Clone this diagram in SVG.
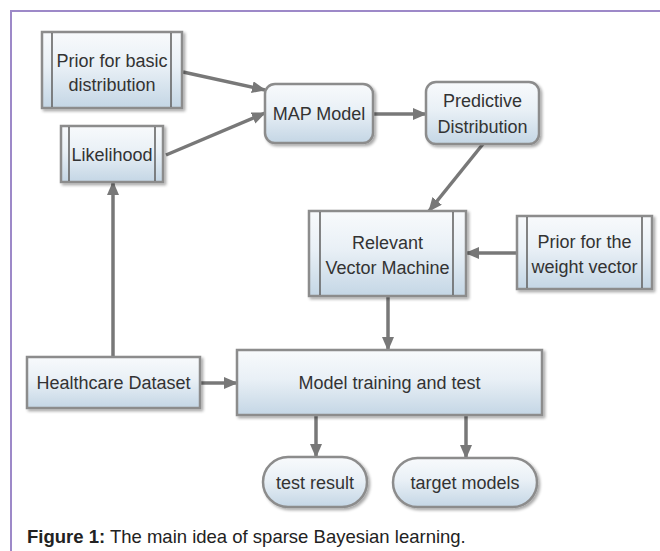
<svg xmlns="http://www.w3.org/2000/svg" width="660" height="551" viewBox="0 0 660 551">
  <defs>
    <linearGradient id="boxFill" x1="0" y1="0" x2="0" y2="1">
      <stop offset="0" stop-color="#f8fafc"/>
      <stop offset="0.45" stop-color="#e9f0f6"/>
      <stop offset="1" stop-color="#c4d6e5"/>
    </linearGradient>
    <filter id="shadow" x="-10%" y="-10%" width="125%" height="135%">
      <feGaussianBlur in="SourceAlpha" stdDeviation="1.5"/>
      <feOffset dx="1.5" dy="2" result="off"/>
      <feComponentTransfer><feFuncA type="linear" slope="0.35"/></feComponentTransfer>
      <feMerge><feMergeNode/><feMergeNode in="SourceGraphic"/></feMerge>
    </filter>
    <marker id="arrow" markerUnits="userSpaceOnUse" markerWidth="14" markerHeight="12" refX="13" refY="6" orient="auto">
      <path d="M0,0 L14,6 L0,12 Z" fill="#787878"/>
    </marker>
  </defs>
  <style>
    .box { fill: url(#boxFill); stroke: #8c8c8c; stroke-width: 2.5; filter: url(#shadow); }
    .bar { stroke: #666; stroke-width: 1.6; }
    .lbl { font-family: "Liberation Sans", Arial, sans-serif; font-size: 18px; fill: #333; text-anchor: middle; }
    .edge { stroke: #787878; stroke-width: 3.5; fill: none; marker-end: url(#arrow); }
    .frame { stroke: #9d89c8; stroke-width: 2; fill: none; }
    .cap { font-family: "Liberation Sans", Arial, sans-serif; font-size: 18.5px; fill: #222; }
  </style>

  <rect width="660" height="551" fill="#ffffff"/>
  <!-- page frame: top and left rules -->
  <path class="frame" d="M11,551 L11,11 L660,11"/>

  <!-- connectors -->
  <g id="connectors">
    <path class="edge" d="M183,72 L265,90"/>
    <path class="edge" d="M166,155 L265,113"/>
    <path class="edge" d="M373,114 L426,114"/>
    <path class="edge" d="M483,144 L429,211"/>
    <path class="edge" d="M517,253 L466,253"/>
    <path class="edge" d="M388,296 L388,350"/>
    <path class="edge" d="M113,357 L113,182"/>
    <path class="edge" d="M200,383 L237,383"/>
    <path class="edge" d="M316,415 L316,457"/>
    <path class="edge" d="M466,415 L466,458"/>
  </g>

  <g id="prior-basic">
    <rect class="box" x="42" y="32" width="140" height="76"/>
    <line class="bar" x1="52" y1="33" x2="52" y2="107"/>
    <line class="bar" x1="171" y1="33" x2="171" y2="107"/>
    <text class="lbl" x="112" y="67">Prior for basic</text>
    <text class="lbl" x="112" y="91">distribution</text>
  </g>

  <g id="likelihood">
    <rect class="box" x="61" y="126" width="102" height="56"/>
    <line class="bar" x1="69" y1="127" x2="69" y2="181"/>
    <line class="bar" x1="155" y1="127" x2="155" y2="181"/>
    <text class="lbl" x="112" y="161">Likelihood</text>
  </g>

  <g id="map-model">
    <rect class="box" x="265" y="84" width="108" height="59" rx="10"/>
    <text class="lbl" x="319" y="120">MAP Model</text>
  </g>

  <g id="predictive">
    <rect class="box" x="426" y="82" width="113" height="62" rx="10"/>
    <text class="lbl" x="482.5" y="107">Predictive</text>
    <text class="lbl" x="482.5" y="133">Distribution</text>
  </g>

  <g id="rvm">
    <rect class="box" x="309" y="211" width="157" height="85"/>
    <line class="bar" x1="320" y1="212" x2="320" y2="295"/>
    <line class="bar" x1="453" y1="212" x2="453" y2="295"/>
    <text class="lbl" x="387.5" y="249">Relevant</text>
    <text class="lbl" x="387.5" y="274">Vector Machine</text>
  </g>

  <g id="prior-weight">
    <rect class="box" x="517" y="216" width="135" height="73"/>
    <line class="bar" x1="527" y1="217" x2="527" y2="288"/>
    <line class="bar" x1="642" y1="217" x2="642" y2="288"/>
    <text class="lbl" x="584.5" y="248">Prior for the</text>
    <text class="lbl" x="584.5" y="273">weight vector</text>
  </g>

  <g id="healthcare">
    <rect class="box" x="27" y="357" width="173" height="51"/>
    <text class="lbl" x="113.5" y="389">Healthcare Dataset</text>
  </g>

  <g id="training">
    <rect class="box" x="237" y="350" width="305" height="65"/>
    <text class="lbl" x="389.5" y="389">Model training and test</text>
  </g>

  <g id="test-result">
    <rect class="box" x="263" y="457" width="104" height="50" rx="25"/>
    <text class="lbl" x="315" y="489">test result</text>
  </g>

  <g id="target-models">
    <rect class="box" x="393" y="458" width="144" height="49" rx="24.5"/>
    <text class="lbl" x="465" y="489">target models</text>
  </g>

  <text class="cap" x="27" y="543"><tspan font-weight="bold">Figure 1:</tspan> The main idea of sparse Bayesian learning.</text>
</svg>
